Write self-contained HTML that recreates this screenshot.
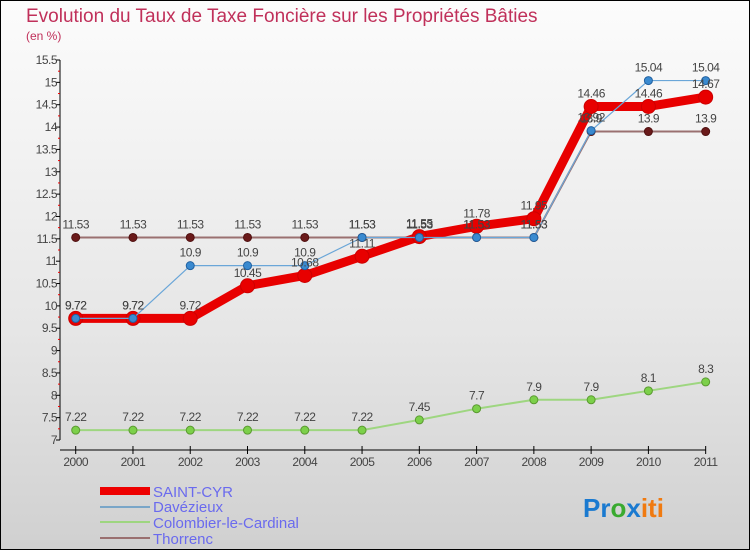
<!DOCTYPE html>
<html><head><meta charset="utf-8"><style>
html,body{margin:0;padding:0;}
body{width:750px;height:550px;overflow:hidden;font-family:"Liberation Sans",sans-serif;}
#wrap{position:relative;width:748px;height:548px;border:1px solid #000;background:linear-gradient(#fcfcfc,#e6e6e6 60%,#d0d0d0);}
svg text{font-family:"Liberation Sans",sans-serif;}
</style></head><body>
<div id="wrap">
<svg id="chart" width="750" height="550" style="position:absolute;left:-1px;top:-1px">
<text x="26" y="22" font-size="19" fill="#c0305a">Evolution du Taux de Taxe Foncière sur les Propriétés Bâties</text>
<text x="26" y="40" font-size="12" fill="#c0305a">(en %)</text>
<g id="axes"></g><g id="series"></g><g id="labels"></g>
<g>
<rect x="100" y="487" width="50" height="8" fill="#e00"/>
<text x="153" y="497" font-size="15" fill="#6a6aee">SAINT-CYR</text>
<line x1="100" y1="507" x2="150" y2="507" stroke="#7aa6c8" stroke-width="2"/>
<text x="153" y="512" font-size="15" fill="#6a6aee">Davézieux</text>
<line x1="100" y1="522" x2="150" y2="522" stroke="#9ed680" stroke-width="2"/>
<text x="153" y="528" font-size="15" fill="#6a6aee">Colombier-le-Cardinal</text>
<line x1="100" y1="538" x2="150" y2="538" stroke="#9a7070" stroke-width="2"/>
<text x="153" y="544" font-size="15" fill="#6a6aee">Thorrenc</text>
</g>
<text x="583" y="517" font-size="26" font-weight="bold"><tspan fill="#1a7ad0">Pr</tspan><tspan fill="#3aaa30">o</tspan><tspan fill="#1a7ad0">x</tspan><tspan fill="#f07a10">iti</tspan></text>
</svg>
</div>
<script>
const years=["2000","2001","2002","2003","2004","2005","2006","2007","2008","2009","2010","2011"];
const saintCyr=[9.72,9.72,9.72,10.45,10.68,11.11,11.55,11.78,11.95,14.46,14.46,14.67];
const davezieux=[9.72,9.72,10.9,10.9,10.9,11.53,11.53,11.53,11.53,13.92,15.04,15.04];
const colombier=[7.22,7.22,7.22,7.22,7.22,7.22,7.45,7.7,7.9,7.9,8.1,8.3];
const thorrenc=[11.53,11.53,11.53,11.53,11.53,11.53,11.53,11.53,11.53,13.9,13.9,13.9];
const yTicks=["7","7.5","8","8.5","9","9.5","10","10.5","11","11.5","12","12.5","13","13.5","14","14.5","15","15.5"];
const NS="http://www.w3.org/2000/svg";
const X=i=>75.7+i*57.27;
const Y=v=>440-(v-7)*(380/8.5);
function mk(tag,attrs,parent){const e=document.createElementNS(NS,tag);for(const k in attrs)e.setAttribute(k,attrs[k]);parent.appendChild(e);return e;}
const axes=document.getElementById('axes'),ser=document.getElementById('series'),lab=document.getElementById('labels');
let a=mk('line',{x1:60,y1:60,x2:60,y2:440,stroke:'#000','stroke-width':1},axes);


a=mk('line',{x1:60,y1:450,x2:706,y2:450,stroke:'#000','stroke-width':1},axes);


yTicks.forEach(t=>{const v=parseFloat(t),y=Y(v);
 mk('line',{x1:56,y1:y,x2:60,y2:y,stroke:'#000'},axes);
 if(v<15.5) mk('line',{x1:58,y1:Y(v+0.25),x2:60,y2:Y(v+0.25),stroke:'#e00'},axes);
 const tx=mk('text',{x:57,y:y+4,'font-size':12,fill:'#444','text-anchor':'end','letter-spacing':'-0.5'},axes);
 tx.textContent=t;
 
 
});
years.forEach((yr,i)=>{const x=X(i);
 mk('line',{x1:x,y1:446,x2:x,y2:454,stroke:'#000'},axes);
 const tx=mk('text',{x:x,y:466,'font-size':12,fill:'#444','text-anchor':'middle','letter-spacing':'-0.5'},axes);
 tx.textContent=yr;
 
 
});
function series(vals,name,color,width,dot,r,dotStroke){
 const pts=vals.map((v,i)=>X(i)+','+Y(v)).join(' ');
 const pl=mk('polyline',{points:pts,fill:'none',stroke:color,'stroke-width':width,'stroke-linejoin':'round'},ser);
 
 
 vals.forEach((v,i)=>{
  const c=mk('circle',{cx:X(i),cy:Y(v),r:r,fill:dot,stroke:dotStroke,'stroke-width':1},ser);
  
  
  const t=mk('text',{x:X(i),y:Y(v)-9,'font-size':12,fill:'#444','text-anchor':'middle','letter-spacing':'-0.5'},lab);
  t.textContent=String(v);
  
  
 });
}
series(colombier,'colombier','#9ed680',2,'#7cd04a',4,'#5a9a30');
series(thorrenc,'thorrenc','#9a7070',2,'#6a1a1a',4,'#501010');
series(saintCyr,'saint-cyr','#e80000',9,'#e80000',7,'#c00');
series(davezieux,'davezieux','#6aa6d8',1.2,'#3a8ad0',4,'#2060a0');
</script>
</body></html>
